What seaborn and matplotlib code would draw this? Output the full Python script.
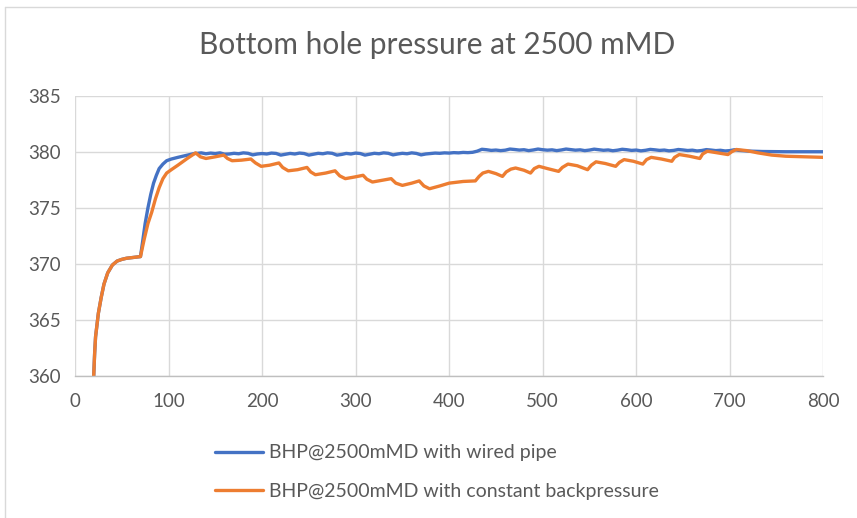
import matplotlib
matplotlib.use("Agg")
import matplotlib.pyplot as plt
from matplotlib.lines import Line2D
import numpy as np
import pandas as pd
import seaborn as sns

# Shared ramp-up (both cases identical until the second pump step)
ramp_t = [20, 21, 22, 25, 28, 31, 35, 40, 45, 50, 55, 60, 65, 70]
ramp_p = [360.0, 362.0, 363.5, 365.6, 367.0, 368.2, 369.2, 369.9, 370.25,
          370.4, 370.5, 370.55, 370.6, 370.65]

# Wired pipe: fast control keeps BHP near setpoint
wired_t = [72, 75, 78, 81, 84, 87, 90, 94, 98, 103, 110, 120, 128,
           130, 135, 140, 145, 150, 155, 160, 165, 170, 175, 180, 185,
           190, 195, 200, 205, 210, 215, 220, 225, 230, 235, 240, 245,
           250, 255, 260, 265, 270, 275, 280, 285, 290, 295, 300, 305,
           310, 315, 320, 325, 330, 335, 340, 345, 350, 355, 360, 365,
           370, 375, 380, 385, 390, 395, 400, 405, 410, 415, 420, 425,
           430, 435, 440, 445, 450, 455, 460, 465, 470, 475, 480, 485,
           490, 495, 500, 505, 510, 515, 520, 525, 530, 535, 540, 545,
           550, 555, 560, 565, 570, 575, 580, 585, 590, 595, 600, 605,
           610, 615, 620, 625, 630, 635, 640, 645, 650, 655, 660, 665,
           670, 675, 680, 685, 690, 695, 700, 705, 710, 720, 735, 760, 800]
wired_p = [371.8, 373.6, 375.0, 376.2, 377.2, 377.9, 378.5, 378.9, 379.2,
           379.35, 379.5, 379.7, 379.85,
           379.85, 379.9, 379.82, 379.88, 379.84, 379.9, 379.78, 379.8,
           379.86, 379.82, 379.9, 379.86, 379.72, 379.8, 379.84, 379.8,
           379.88, 379.85, 379.7, 379.78, 379.85, 379.8, 379.88, 379.84,
           379.7, 379.78, 379.86, 379.82, 379.9, 379.86, 379.7, 379.76,
           379.85, 379.8, 379.88, 379.84, 379.7, 379.78, 379.86, 379.82,
           379.9, 379.86, 379.72, 379.8, 379.86, 379.82, 379.9, 379.85,
           379.72, 379.8, 379.84, 379.88, 379.86, 379.9, 379.88, 379.92,
           379.9, 379.94, 379.92, 379.95,
           380.05, 380.22, 380.18, 380.12, 380.15, 380.1, 380.14, 380.24,
           380.2, 380.15, 380.18, 380.1, 380.16, 380.24, 380.18, 380.14,
           380.17, 380.1, 380.16, 380.24, 380.19, 380.14, 380.17, 380.1,
           380.15, 380.23, 380.18, 380.13, 380.16, 380.09, 380.14, 380.22,
           380.18, 380.12, 380.15, 380.08, 380.13, 380.21, 380.17, 380.12,
           380.15, 380.08, 380.12, 380.2, 380.16, 380.11, 380.14, 380.07,
           380.11, 380.19, 380.15, 380.1, 380.13, 380.07, 380.1, 380.18,
           380.12, 380.06, 380.02, 380.0, 380.0]

# Constant backpressure: BHP swings with each connection
cbp_t = [74, 78, 82, 86, 90, 94, 98, 103, 110, 120, 129,
         134, 140, 150, 159,
         163, 168, 178, 188,
         193, 199, 208, 218,
         222, 228, 238, 248,
         252, 257, 268, 278,
         283, 289, 299, 308,
         312, 318, 328, 338,
         343, 350, 360, 368,
         373, 379, 390, 400, 415, 428,
         432, 436, 442, 450, 457,
         461, 466, 471, 480, 487,
         491, 496, 505, 517,
         521, 527, 537, 548,
         552, 557, 567, 578,
         582, 587, 597, 607,
         611, 616, 627, 638,
         641, 646, 657, 668,
         671, 676, 687, 698,
         702, 707, 718, 730, 745, 760, 780, 800]
cbp_p = [372.2, 373.6, 374.6, 375.8, 376.8, 377.6, 378.1, 378.4, 378.8,
         379.4, 379.9,
         379.55, 379.4, 379.55, 379.7,
         379.4, 379.2, 379.25, 379.35,
         379.0, 378.7, 378.8, 379.0,
         378.6, 378.3, 378.4, 378.6,
         378.2, 377.95, 378.1, 378.3,
         377.85, 377.6, 377.75, 377.9,
         377.55, 377.3, 377.45, 377.6,
         377.2, 377.0, 377.2, 377.4,
         376.95, 376.7, 376.95, 377.2, 377.35, 377.4,
         377.8, 378.1, 378.25, 378.05, 377.8,
         378.2, 378.45, 378.55, 378.35, 378.1,
         378.5, 378.7, 378.5, 378.25,
         378.6, 378.9, 378.75, 378.4,
         378.8, 379.1, 378.95, 378.7,
         379.05, 379.3, 379.15, 378.9,
         379.3, 379.5, 379.35, 379.15,
         379.5, 379.75, 379.6, 379.4,
         379.8, 380.05, 379.9, 379.75,
         380.0, 380.2, 380.1, 379.9, 379.7, 379.6, 379.55, 379.5]

labels = ["BHP@2500mMD with wired pipe",
          "BHP@2500mMD with constant backpressure"]
colors = ["#4472C4", "#ED7D31"]

df = pd.concat([
    pd.DataFrame({"t": ramp_t + wired_t, "p": ramp_p + wired_p,
                  "case": labels[0]}),
    pd.DataFrame({"t": ramp_t + cbp_t, "p": ramp_p + cbp_p,
                  "case": labels[1]}),
], ignore_index=True)

sns.set_theme(style="white")
plt.rcParams["font.family"] = ["Lato", "DejaVu Sans"]

fig = plt.figure(figsize=(8.57, 5.18), dpi=100)
ax = fig.add_axes([0.0875, 0.2741, 0.9607 - 0.0875, 0.8153 - 0.2741])

sns.lineplot(data=df, x="t", y="p", hue="case", hue_order=labels,
             palette=colors, estimator=None, sort=False, linewidth=2.4,
             ax=ax, legend=False)

ax.set_xlim(0, 800)
ax.set_ylim(360, 385)
ax.set_xticks(range(0, 801, 100))
ax.set_yticks(range(360, 386, 5))
ax.set_xlabel("")
ax.set_ylabel("")
ax.grid(True, color="#d9d9d9", linewidth=1.0)
ax.set_axisbelow(True)
for side in ["top", "right", "left"]:
    ax.spines[side].set_visible(False)
ax.spines["bottom"].set_color("#bfbfbf")
ax.spines["bottom"].set_linewidth(1.0)
ax.tick_params(axis="both", length=0, labelsize=13.5, colors="#595959")
ax.tick_params(axis="x", pad=12)
ax.tick_params(axis="y", pad=10)

fig.text(0.51, 0.913, "Bottom hole pressure at 2500 mMD", ha="center",
         va="center", fontsize=21.5, color="#595959")

handles = [Line2D([], [], color=c, linewidth=2.4) for c in colors]
fig.legend(handles, labels, loc="upper left", bbox_to_anchor=(0.251, 0.142),
           frameon=False, fontsize=14, labelcolor="#595959",
           handlelength=2.45, handletextpad=0.3, labelspacing=1.12,
           borderaxespad=0, borderpad=0)

# Chart frame edges
fig.add_artist(Line2D([5 / 857, 1], [1 - 7 / 518, 1 - 7 / 518],
                      transform=fig.transFigure, color="#d9d9d9", linewidth=1))
fig.add_artist(Line2D([5 / 857, 5 / 857], [0, 1 - 7 / 518],
                      transform=fig.transFigure, color="#d9d9d9", linewidth=1))

fig.savefig("out.png", dpi=100)
